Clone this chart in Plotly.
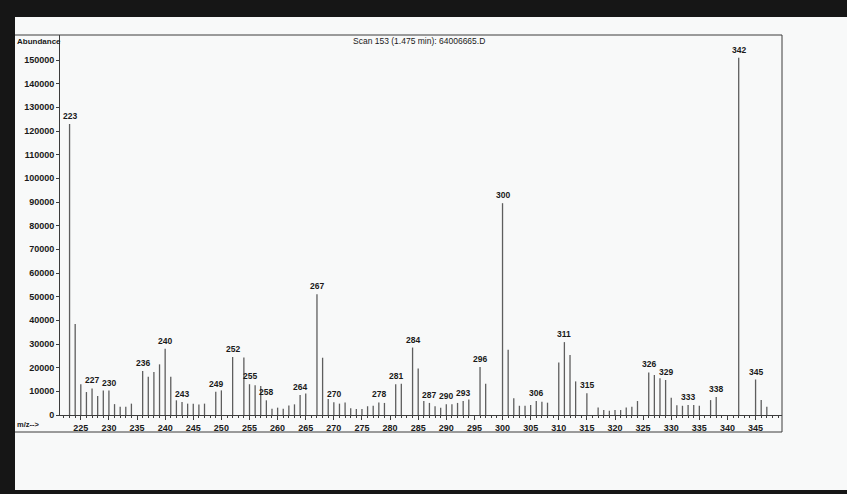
import plotly.graph_objects as go

# Mass spectrum: m/z values and abundances
mz = [223, 224, 225, 226, 227, 228, 229, 230, 231, 232, 233, 234,
      236, 237, 238, 239, 240, 241, 242, 243, 244, 245, 246, 247,
      249, 250, 252, 254, 255, 256, 257, 258, 259, 260, 261, 262, 263,
      264, 265, 267, 268, 269, 270, 271, 272, 273, 274, 275, 276, 277,
      278, 279, 281, 282, 284, 285, 286, 287, 288, 289, 290, 291, 292,
      293, 294, 296, 297, 300, 301, 302, 303, 304, 305, 306, 307, 308,
      310, 311, 312, 313, 315, 317, 318, 319, 320, 321, 322, 323, 324,
      326, 327, 328, 329, 330, 331, 332, 333, 334, 335, 337, 338,
      342, 345, 346, 347]
abundance = [123000, 38500, 13000, 9700, 11200, 8000, 10300, 10300, 4600, 3500, 3500, 4800,
             18600, 16200, 18200, 21400, 28000, 16200, 6200, 5500, 4800, 4800, 4400, 4800,
             9800, 10400, 24500, 24300, 13000, 12600, 12300, 6200, 2600, 3100, 2600, 4000, 4500,
             8500, 9100, 51000, 24200, 6800, 5400, 4800, 5300, 2800, 2500, 2500, 3700, 3900,
             5300, 5100, 13000, 13200, 28500, 19600, 5900, 5100, 3700, 3100, 4500, 4500, 5100,
             5900, 6500, 20300, 13200, 89500, 27600, 7100, 3900, 3900, 4200, 5900, 5600, 5200,
             22200, 30800, 25400, 14200, 9200, 3200, 2100, 1800, 2100, 2100, 3200, 3500, 5900,
             18000, 16900, 15500, 14800, 7300, 4100, 3900, 4200, 4200, 3900, 6300, 7600,
             151000, 15000, 6300, 3500]

# Peaks that carry an m/z label
labelled = [223, 227, 230, 236, 240, 243, 249, 252, 255, 258, 264, 267, 270,
            278, 281, 284, 287, 290, 293, 296, 300, 306, 311, 315, 326, 329,
            333, 338, 342, 345]

y_ticks = list(range(0, 150001, 10000))
x_ticks = list(range(225, 346, 5))

title_text = "Scan 153 (1.475 min): 64006665.D"

W, H = 847, 494
L, R, T, B = 60, 65, 35, 79
FONT = "Liberation Sans, Arial, sans-serif"
INK = "#1a1a1a"
PAPER = "#f8f9f9"


def px(x):
    return (x - L) / (W - L - R)


def py(y):
    return (H - B - y) / (H - T - B)


# stick spectrum as vertical line segments
xs, ys = [], []
for m, a in zip(mz, abundance):
    xs += [m, m, None]
    ys += [0, a, None]

fig = go.Figure()
fig.add_trace(go.Scatter(x=xs, y=ys, mode="lines",
                         line=dict(color="#5e5e5e", width=1.3),
                         hoverinfo="skip", showlegend=False))

lookup = dict(zip(mz, abundance))
annotations = []
for m in labelled:
    annotations.append(dict(x=m, y=lookup[m], xref="x", yref="y", text=str(m),
                            showarrow=False, yanchor="bottom", yshift=1,
                            font=dict(family=FONT, size=8.5, color=INK, weight="bold")))

annotations += [
    dict(x=px(15), y=py(41), xref="paper", yref="paper", text="Abundance",
         showarrow=False, xanchor="left", yanchor="middle",
         font=dict(family=FONT, size=8, color=INK, weight="bold")),
    dict(x=px(419), y=py(41), xref="paper", yref="paper", text=title_text,
         showarrow=False, xanchor="center", yanchor="middle",
         font=dict(family=FONT, size=8.5, color=INK)),
    dict(x=px(15), y=py(424), xref="paper", yref="paper", text="m/z-->",
         showarrow=False, xanchor="left", yanchor="middle",
         font=dict(family=FONT, size=7.5, color=INK, weight="bold")),
]

shapes = []
# frame around the whole spectrum printout
box = dict(type="line", xref="paper", yref="paper", line=dict(color="#3c3c3c", width=1))
shapes.append({**box, "x0": px(15), "x1": px(782), "y0": py(35), "y1": py(35)})
shapes.append({**box, "x0": px(782), "x1": px(782), "y0": py(35), "y1": py(432)})
shapes.append({**box, "x0": px(15), "x1": px(782), "y0": py(432), "y1": py(432)})
# dark border bands
band = dict(type="rect", xref="paper", yref="paper", fillcolor="#161616",
            line=dict(width=0), layer="above")
shapes.append({**band, "x0": px(0), "x1": px(W), "y0": py(0), "y1": py(17)})
shapes.append({**band, "x0": px(0), "x1": px(15), "y0": py(0), "y1": py(H)})
shapes.append({**band, "x0": px(0), "x1": px(W), "y0": py(490), "y1": py(H)})

fig.update_layout(
    width=W, height=H,
    margin=dict(l=L, r=R, t=T, b=B, pad=0),
    paper_bgcolor=PAPER, plot_bgcolor=PAPER,
    showlegend=False,
    annotations=annotations,
    shapes=shapes,
    xaxis=dict(range=[221.3, 349.7], tickvals=x_ticks, ticktext=[str(v) for v in x_ticks],
               showgrid=False, zeroline=False, showline=True, linecolor="#3c3c3c", linewidth=1,
               ticks="outside", ticklen=4, tickcolor="#3c3c3c", tickwidth=1,
               minor=dict(dtick=1, tick0=0, ticks="outside", ticklen=2,
                          tickcolor="#3c3c3c", showgrid=False),
               tickfont=dict(family=FONT, size=9, color=INK, weight="bold"), fixedrange=True),
    yaxis=dict(range=[0, 150000 * 380 / 355], tickvals=y_ticks, tickformat="d",
               showgrid=False, zeroline=False, showline=True, linecolor="#3c3c3c", linewidth=1,
               ticks="outside", ticklen=3, tickcolor="#3c3c3c", tickwidth=1,
               tickfont=dict(family=FONT, size=9, color=INK, weight="bold"), fixedrange=True),
)

fig.write_html("out.html")
